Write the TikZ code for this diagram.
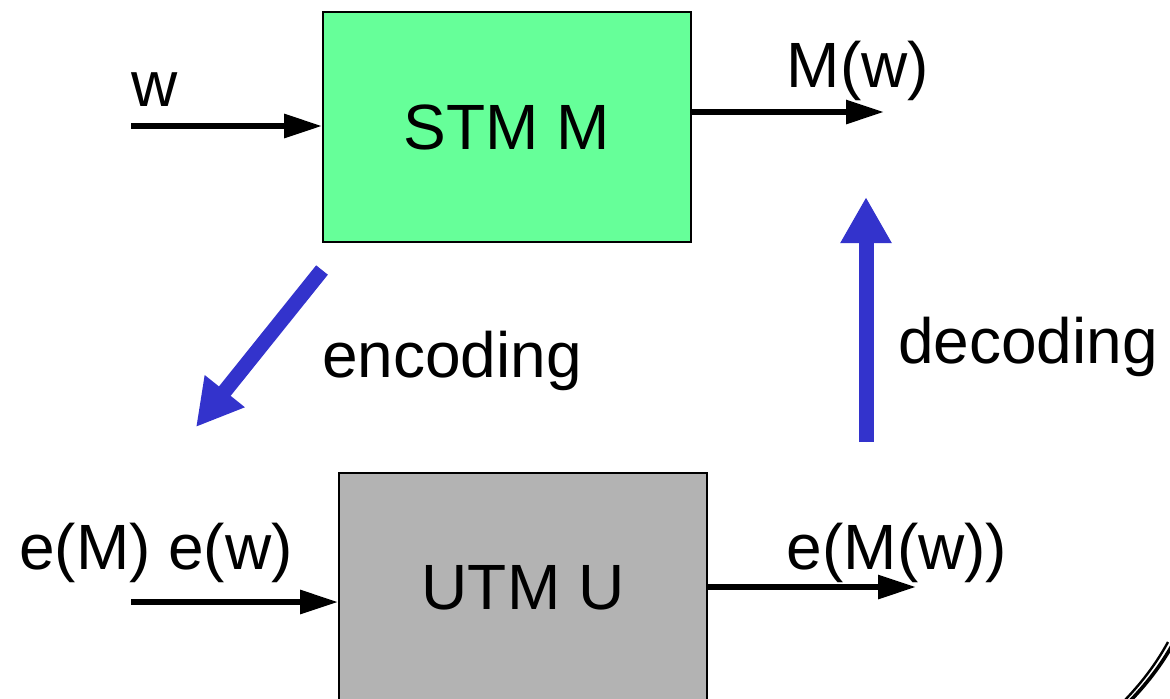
\documentclass[tikz,border=0pt]{standalone}
\usepackage{fontspec}
\setmainfont{Liberation Sans}
\usetikzlibrary{positioning,arrows.meta}
\definecolor{tmGreen}{HTML}{66FF99}
\definecolor{tmGray}{HTML}{B3B3B3}
\definecolor{tmBlue}{HTML}{3333CC}
\newcommand{\slidefont}{\fontsize{32}{38}\selectfont}
\tikzset{
  machine/.style={draw=black, line width=0.9pt, minimum width=184pt,
                  minimum height=115pt, inner sep=0pt, font=\slidefont},
  stm/.style={machine, fill=tmGreen},
  utm/.style={machine, fill=tmGray},
  lbl/.style={font=\slidefont, inner sep=0pt},
  io/.style={-{Triangle[length=19pt, width=11.5pt]}, line width=3pt},
  code/.style={-{Triangle[length=23pt, width=24pt]}, line width=7.5pt,
               draw=tmBlue, fill=tmBlue},
}

\begin{document}
\begin{tikzpicture}[x=0.5pt, y=-0.5pt]
\useasboundingbox (0,0) rectangle (1170,698);
\clip (0,0) rectangle (1170,698);

%% -- the two machines --------------------------------------------------
\node[stm] (stm) at (507,127) {STM M};
\node[utm] (utm) at (523,588) {UTM U};

%% -- inputs and outputs ------------------------------------------------
\coordinate (win)  at (131,126);
\coordinate (mwout) at (884,112);
\coordinate (ein)  at (131,602);
\coordinate (eout) at (916,587);

\draw[io] (win) -- (stm.west |- win);
\draw[io] (stm.east |- mwout) -- (mwout);
\draw[io] (ein) -- (utm.west |- ein);
\draw[io] (utm.east |- eout) -- (eout);

\node[lbl] (w)   at (155,90)  {w};
\node[lbl] (mw)  at (858,71)  {M(w)};
\node[lbl] (ew)  at (156,553) {e(M) e(w)};
\node[lbl] (emw) at (897,553) {e(M(w))};

%% -- encoding / decoding -----------------------------------------------
\coordinate (encA) at (322,270);
\coordinate (encB) at (196,427);
\coordinate (decA) at (866,442);
\coordinate (decB) at (866,197);
\draw[code] (encA) -- (encB);
\draw[code] (decA) -- (decB);

\node[lbl] (enc) at (452,361) {encoding};
\node[lbl] (dec) at (1028,347) {decoding};

%% -- frame corner ------------------------------------------------------
\draw[line width=1.8pt] (1131,700) .. controls (1150,680) and (1163,662) .. (1174,642);
\draw[line width=1.2pt] (1125,700) .. controls (1144,680) and (1157,662) .. (1168,642);

\end{tikzpicture}
\end{document}
